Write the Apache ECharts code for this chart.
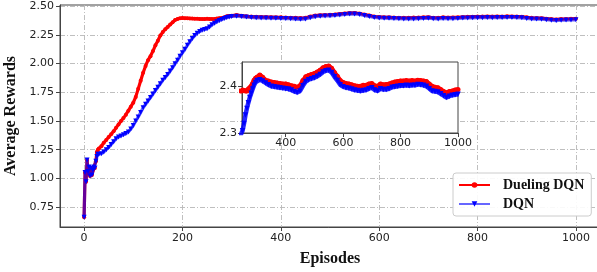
<!DOCTYPE html>
<html>
<head>
<meta charset="utf-8">
<script src="https://cdn.jsdelivr.net/npm/echarts@6/dist/echarts.min.js"></script>
<style>html,body{margin:0;padding:0;background:#fff}#c{width:597px;height:272px}</style>
</head>
<body>
<div id="c"></div>
<script>
const episodes = [0,2,4,6,8,10,12,14,16,18,20,22,24,26,28,30,
35,40,45,50,55,60,65,70,75,80,85,90,95,100,105,110,115,120,125,130,135,140,145,150,
155,160,165,170,175,180,185,190,195,200,205,210,215,220,225,230,235,240,245,250,
255,260,265,270,275,280,285,290,295,300,
310,320,330,340,350,360,370,380,390,400,410,420,430,440,450,460,470,480,490,500,
510,520,530,540,550,560,570,580,590,600,610,620,630,640,650,660,670,680,690,700,
710,720,730,740,750,760,770,780,790,800,810,820,830,840,850,860,870,880,890,900,
910,920,930,940,950,960,970,980,990,1000];

const duelingDQN = [0.66,1.05,0.97,1.16,1.06,1.10,1.02,1.09,1.03,1.07,1.10,1.09,1.15,1.23,1.25,1.26,
1.28,1.31,1.335,1.36,1.385,1.41,1.44,1.47,1.50,1.525,1.555,1.59,1.625,1.66,1.71,1.78,1.85,1.92,1.98,2.03,2.065,2.11,2.16,2.20,
2.245,2.275,2.30,2.32,2.34,2.36,2.38,2.39,2.395,2.397,2.396,2.395,2.394,2.393,2.392,2.391,2.390,2.389,2.388,2.391,
2.390,2.389,2.389,2.393,2.396,2.398,2.405,2.412,2.416,2.418,
2.423,2.418,2.412,2.410,2.408,2.407,2.406,2.405,2.404,2.404,2.402,2.400,2.399,2.397,2.400,2.411,2.419,2.422,2.424,2.426,
2.429,2.433,2.438,2.441,2.442,2.437,2.428,2.420,2.411,2.407,2.405,2.404,2.402,2.400,2.399,2.399,2.401,2.401,2.404,2.405,
2.400,2.399,2.404,2.402,2.403,2.404,2.406,2.408,2.409,2.410,2.410,2.411,2.410,2.411,2.410,2.412,2.411,2.410,2.409,2.404,
2.399,2.397,2.396,2.392,2.388,2.385,2.388,2.389,2.391,2.392];

const dqn = [0.66,1.05,0.97,1.16,1.06,1.10,1.02,1.09,1.03,1.07,1.10,1.09,1.15,1.19,1.21,1.21,
1.215,1.23,1.25,1.27,1.295,1.32,1.345,1.36,1.37,1.38,1.39,1.405,1.43,1.46,1.50,1.535,1.575,1.615,1.645,1.675,1.705,1.735,1.765,1.795,
1.825,1.855,1.88,1.905,1.935,1.965,2.00,2.03,2.065,2.095,2.125,2.16,2.19,2.22,2.245,2.265,2.28,2.29,2.298,2.305,
2.32,2.338,2.352,2.364,2.375,2.384,2.393,2.401,2.407,2.411,
2.413,2.410,2.406,2.402,2.399,2.398,2.397,2.396,2.395,2.394,2.393,2.391,2.388,2.386,2.389,2.400,2.409,2.413,2.415,2.417,
2.420,2.424,2.429,2.432,2.433,2.428,2.419,2.411,2.402,2.398,2.396,2.395,2.393,2.391,2.390,2.389,2.390,2.391,2.394,2.396,
2.391,2.389,2.394,2.392,2.392,2.394,2.397,2.398,2.399,2.400,2.400,2.401,2.400,2.401,2.401,2.403,2.402,2.401,2.399,2.394,
2.389,2.388,2.387,2.383,2.379,2.375,2.378,2.380,2.381,2.382];

const mainXTicks = [0,200,400,600,800,1000];
const mainYTicks = [0.75,1.00,1.25,1.50,1.75,2.00,2.25,2.50];
const insetXTicks = [400,600,800,1000];
const insetYTicks = [2.3,2.4];

const redData = episodes.map((e,i)=>[e, duelingDQN[i]]);
const blueData = episodes.map((e,i)=>[e, dqn[i]]);

const tickFont = {fontFamily:'DejaVu Sans', fontSize:11, color:'#222'};
const frame = '#444';
const gridLine = {show:true, lineStyle:{color:'#b8b8b8', width:0.9, type:[5,2,1,2]}};

const chart = echarts.init(document.getElementById('c'), null, {renderer:'canvas'});
chart.setOption({
  animation:false,
  backgroundColor:'#fff',
  grid:[
    {left:60, top:5, width:540, height:222, outerBoundsMode:'none', containLabel:false, show:true, borderColor:frame, borderWidth:1, backgroundColor:'transparent', z:0},
    {left:242, top:62, width:216, height:71, outerBoundsMode:'none', containLabel:false, show:true, borderColor:frame, borderWidth:1, backgroundColor:'#fff', z:5}
  ],
  xAxis:[
    {gridIndex:0, type:'value', min:-49, max:1049,
     name:'Episodes', nameLocation:'middle', nameGap:24,
     nameTextStyle:{fontFamily:'Liberation Serif', fontWeight:'bold', fontSize:16, color:'#111'},
     axisLine:{show:true, onZero:false, lineStyle:{color:frame}},
     axisTick:{show:true, length:4, customValues:mainXTicks, lineStyle:{color:frame}},
     axisLabel:Object.assign({customValues:mainXTicks, margin:6, formatter:v=>String(v)}, tickFont),
     splitLine:gridLine},
    {gridIndex:1, type:'value', min:248, max:1000, z:6,
     axisLine:{show:true, onZero:false, lineStyle:{color:frame}},
     axisTick:{show:true, length:4, customValues:insetXTicks, lineStyle:{color:frame}},
     axisLabel:Object.assign({customValues:insetXTicks, margin:5, formatter:v=>String(v)}, tickFont),
     splitLine:{show:false}}
  ],
  yAxis:[
    {gridIndex:0, type:'value', min:0.576, max:2.511,
     name:'Average Rewards', nameLocation:'middle', nameGap:41, nameRotate:90,
     nameTextStyle:{fontFamily:'Liberation Serif', fontWeight:'bold', fontSize:16, color:'#111'},
     axisLine:{show:true, onZero:false, lineStyle:{color:frame}},
     axisTick:{show:true, length:4, customValues:mainYTicks, lineStyle:{color:frame}},
     axisLabel:Object.assign({customValues:mainYTicks, margin:6, formatter:v=>v.toFixed(2)}, tickFont),
     splitLine:gridLine},
    {gridIndex:1, type:'value', min:2.3, max:2.4504, z:6,
     axisLine:{show:true, onZero:false, lineStyle:{color:frame}},
     axisTick:{show:true, length:4, customValues:insetYTicks, lineStyle:{color:frame}},
     axisLabel:Object.assign({customValues:insetYTicks, margin:5, formatter:v=>v.toFixed(1)}, tickFont),
     splitLine:{show:false}}
  ],
  legend:{
    left:453, top:173, orient:'vertical', z:20,
    backgroundColor:'rgba(255,255,255,0.9)', borderColor:'#ccc', borderWidth:1, borderRadius:3,
    padding:[5,7,5,5], itemGap:5, itemWidth:31, itemHeight:7,
    textStyle:{fontFamily:'Liberation Serif', fontWeight:'bold', fontSize:14, color:'#111', padding:[0,0,0,8]},
    data:['Dueling DQN','DQN']
  },
  series:[
    {name:'Dueling DQN', type:'line', xAxisIndex:0, yAxisIndex:0, data:redData, z:2,
     symbol:'circle', symbolSize:4, showSymbol:true,
     lineStyle:{color:'#ff0000', width:3.2}, itemStyle:{color:'#ff0000'}},
    {name:'DQN', type:'line', xAxisIndex:0, yAxisIndex:0, data:blueData, z:3,
     symbol:'triangle', symbolRotate:180, symbolSize:5, showSymbol:true,
     lineStyle:{color:'#0000ff', width:3.2, opacity:0.6}, itemStyle:{color:'#0000ff'}},
    {name:'Dueling DQN', type:'line', xAxisIndex:1, yAxisIndex:1, data:redData, z:7,
     symbol:'circle', symbolSize:5, showSymbol:true, clip:true,
     lineStyle:{color:'#ff0000', width:4.5}, itemStyle:{color:'#ff0000'}},
    {name:'DQN', type:'line', xAxisIndex:1, yAxisIndex:1, data:blueData, z:8,
     symbol:'triangle', symbolRotate:180, symbolSize:5.5, showSymbol:true, clip:true,
     lineStyle:{color:'#0000ff', width:4.5, opacity:0.85}, itemStyle:{color:'#0000ff'}}
  ]
});
</script>
</body>
</html>
